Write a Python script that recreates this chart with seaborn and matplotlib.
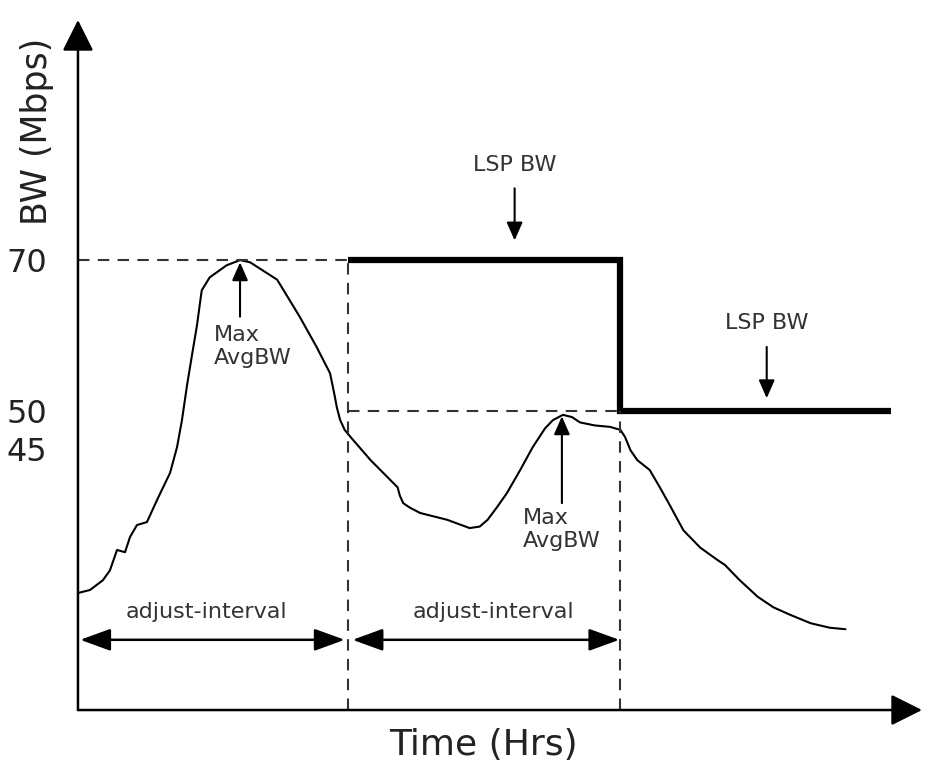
import numpy as np
import matplotlib
matplotlib.use("Agg")
import matplotlib.pyplot as plt
import seaborn as sns
import pandas as pd

# -----------------------
# Data
# -----------------------
time_hrs = [0.0, 1.07, 2.22, 2.84, 3.47, 4.18, 4.62, 5.24, 6.13, 7.02, 8.18, 8.8,
            9.24, 9.69, 10.13, 10.58, 10.84, 11.0, 11.7, 13.2, 14.4, 15.3, 17.7,
            19.7, 21.2, 22.4, 22.8, 23.0, 23.3, 23.7, 24.2, 26.0, 28.4, 28.6,
            28.9, 29.5, 30.4, 32.8, 34.8, 35.7, 36.4, 37.2, 38.1, 39.3, 40.4,
            41.5, 42.2, 43.1, 43.9, 44.6, 45.9, 47.3, 48.2, 48.6, 49.1, 49.7,
            50.8, 51.7, 52.6, 53.8, 55.3, 56.8, 57.5, 58.8, 60.4, 61.8, 63.3,
            65.1, 66.8, 68.2]
avg_bw = [25.9, 26.3, 27.6, 28.9, 31.6, 31.3, 33.3, 34.9, 35.3, 38.2, 41.8, 45.2,
          48.8, 53.4, 57.4, 61.4, 64.3, 66.0, 67.7, 69.3, 70.0, 69.7, 67.4,
          62.5, 58.5, 55.0, 52.1, 50.5, 48.8, 47.5, 46.6, 43.5, 39.9, 38.8,
          37.8, 37.2, 36.5, 35.6, 34.5, 34.7, 35.6, 37.2, 39.1, 42.2, 45.2,
          47.7, 48.8, 49.5, 49.2, 48.5, 48.1, 47.9, 47.5, 46.6, 44.8, 43.5,
          42.2, 39.9, 37.5, 34.2, 31.9, 30.3, 29.6, 27.6, 25.4, 24.0, 23.0,
          21.9, 21.3, 21.1]

lsp_time = [24.0, 48.2, 48.2, 72.2]
lsp_bw = [70, 70, 50, 50]

interval_edges = [0.0, 24.0, 48.2]
max_avg_bw = [70, 50]
y_ticks = [70, 50, 45]

x_min, x_max = 0, 75
y_min, y_max = 10.4, 101.8

sns.set_style("white")
plt.rcParams["font.family"] = ["DejaVu Sans"]

fig = plt.figure(figsize=(9.26, 7.69), dpi=100)
ax = fig.add_axes([0.0842, 0.0767, 0.9115, 0.8973])

df = pd.DataFrame({"time": time_hrs, "bw": avg_bw})
sns.lineplot(data=df, x="time", y="bw", sort=False, estimator=None,
             color="black", lw=1.5, ax=ax)

lsp = pd.DataFrame({"time": lsp_time, "bw": lsp_bw})
sns.lineplot(data=lsp, x="time", y="bw", sort=False, estimator=None,
             color="black", lw=4.5, ax=ax,
             solid_joinstyle="miter", solid_capstyle="butt")

# -----------------------
# dashed guides
# -----------------------
dash = dict(color="#333333", lw=1.5, dashes=(5.5, 4))
ax.plot([x_min, interval_edges[1]], [max_avg_bw[0], max_avg_bw[0]], **dash)
ax.plot([interval_edges[1], interval_edges[1]], [y_min, max_avg_bw[0]], **dash)
ax.plot([interval_edges[1], interval_edges[2]], [max_avg_bw[1], max_avg_bw[1]], **dash)
ax.plot([interval_edges[2], interval_edges[2]], [y_min, max_avg_bw[1]], **dash)

# -----------------------
# axes with arrows
# -----------------------
ax.set_xlim(x_min, x_max)
ax.set_ylim(y_min, y_max)
for s in ax.spines.values():
    s.set_visible(False)
axis_arrow = dict(arrowstyle="-|>,head_length=0.4,head_width=0.2", color="black",
                  lw=1.8, mutation_scale=48, shrinkA=0, shrinkB=0)
ax.annotate("", xy=(0, 1), xytext=(0, 0), xycoords="axes fraction", arrowprops=axis_arrow)
ax.annotate("", xy=(1, 0), xytext=(0, 0), xycoords="axes fraction", arrowprops=axis_arrow)

ax.set_xticks([])
ax.set_yticks(y_ticks)
ax.set_yticklabels([str(t) for t in y_ticks], fontsize=23, color="#222222")
ax.tick_params(axis="y", length=0, pad=22)

ax.set_xlabel("Time (Hrs)", fontsize=26, color="#222222")
ax.xaxis.set_label_coords(0.48, -0.051)
ax.set_ylabel("BW (Mbps)", fontsize=25, color="#222222")
ax.yaxis.set_label_coords(-0.0486, 0.838)
ax.xaxis.label.set_va("center")
ax.yaxis.label.set_va("center")

# -----------------------
# annotations
# -----------------------
small_arrow = dict(arrowstyle="-|>,head_length=0.5,head_width=0.22", color="black",
                   lw=1.5, mutation_scale=22, shrinkA=0, shrinkB=0)
txt = dict(fontsize=16, color="#333333")

ax.annotate("", xy=(14.4, 69.7), xytext=(14.4, 62.5), arrowprops=small_arrow)
ax.text(12.1, 61.4, "Max\nAvgBW", ha="left", va="top", **txt)

ax.annotate("", xy=(43.0, 49.3), xytext=(43.0, 37.8), arrowprops=small_arrow)
ax.text(39.5, 37.2, "Max\nAvgBW", ha="left", va="top", **txt)

ax.annotate("", xy=(38.8, 72.6), xytext=(38.8, 79.5), arrowprops=small_arrow)
ax.text(38.8, 82.6, "LSP BW", ha="center", va="center", **txt)

ax.annotate("", xy=(61.2, 51.7), xytext=(61.2, 58.5), arrowprops=small_arrow)
ax.text(61.2, 61.7, "LSP BW", ha="center", va="center", **txt)

both_arrow = dict(arrowstyle="<|-|>,head_length=0.55,head_width=0.2", color="black",
                  lw=1.8, mutation_scale=34, shrinkA=0, shrinkB=0)
ax.annotate("", xy=(0.2, 19.7), xytext=(23.7, 19.7), arrowprops=both_arrow)
ax.annotate("", xy=(24.4, 19.7), xytext=(48.1, 19.7), arrowprops=both_arrow)
ax.text(11.4, 23.4, "adjust-interval", ha="center", va="center", **txt)
ax.text(36.9, 23.4, "adjust-interval", ha="center", va="center", **txt)

fig.savefig("out.png", dpi=100)
